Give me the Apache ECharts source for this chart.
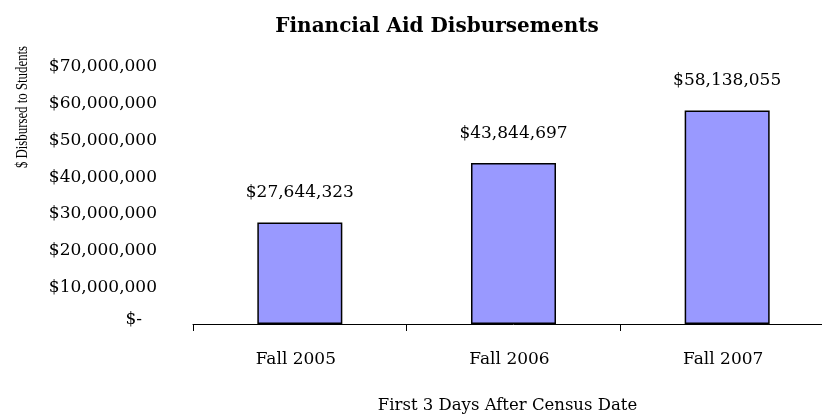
<!DOCTYPE html>
<html><head><meta charset="utf-8">
<script src="https://cdn.jsdelivr.net/npm/echarts@6/dist/echarts.min.js"></script>
<style>html,body{margin:0;padding:0;background:#fff;overflow:hidden}#c{width:834px;height:419px}</style>
</head><body><div id="c"></div>
<script>
const categories = ['Fall 2005', 'Fall 2006', 'Fall 2007'];
const disbursed = [27644323, 43844697, 58138055];
const yTicks = [0, 10000000, 20000000, 30000000, 40000000, 50000000, 60000000, 70000000];

const FONT = 'DejaVu Serif';
function money(v) {
  return '$' + v.toString().replace(/\B(?=(\d{3})+(?!\d))/g, ',');
}
const chart = echarts.init(document.getElementById('c'));
chart.setOption({
  animation: false,
  title: {
    text: 'Financial Aid Disbursements',
    left: 432, top: 12, textAlign: 'center',
    textStyle: { fontFamily: FONT, fontWeight: 'bold', fontSize: 20, color: '#000' }
  },
  grid: { left: 193, top: 67, right: 0, bottom: 95, containLabel: false },
  graphic: [{
    type: 'text', x: 22, y: 107, rotation: Math.PI / 2, scaleX: 0.95, scaleY: 1.3,
    style: { text: '$ Disbursed to Students', fontFamily: 'Liberation Serif', fontSize: 13.5,
      fill: '#000', align: 'center', verticalAlign: 'middle' }
  }],
  xAxis: {
    type: 'category', data: categories,
    name: 'First 3 Days After Census Date', nameLocation: 'middle', nameGap: 73,
    nameTextStyle: { fontFamily: FONT, fontSize: 16.5, color: '#000', padding: [0, 12, 0, 0] },
    axisLine: { lineStyle: { color: '#000', width: 1 } },
    axisTick: { show: true, alignWithLabel: false, length: 7, lineStyle: { color: '#000' } },
    axisLabel: { fontFamily: FONT, fontSize: 17, color: '#000', margin: 27, padding: [0, 8, 0, 0] }
  },
  yAxis: {
    type: 'value', min: yTicks[0], max: yTicks[yTicks.length - 1], interval: yTicks[1] - yTicks[0],
    axisLine: { show: false }, axisTick: { show: false }, splitLine: { show: false },
    axisLabel: {
      fontFamily: FONT, fontSize: 17, color: '#000', margin: 36, showMinLabel: true,
      formatter: v => v === 0 ? '{z|$-}' : money(v),
      rich: { z: { fontFamily: FONT, fontSize: 17, color: '#000', padding: [0, 15, 8, 0] } }
    }
  },
  series: [{
    type: 'bar', data: disbursed, barWidth: 85,
    itemStyle: { color: '#9999FF', borderColor: '#000', borderWidth: 1.5 },
    label: { show: true, position: 'top', distance: 21, formatter: p => money(p.value),
      fontFamily: FONT, fontSize: 17, color: '#000' }
  }]
});
</script></body></html>
